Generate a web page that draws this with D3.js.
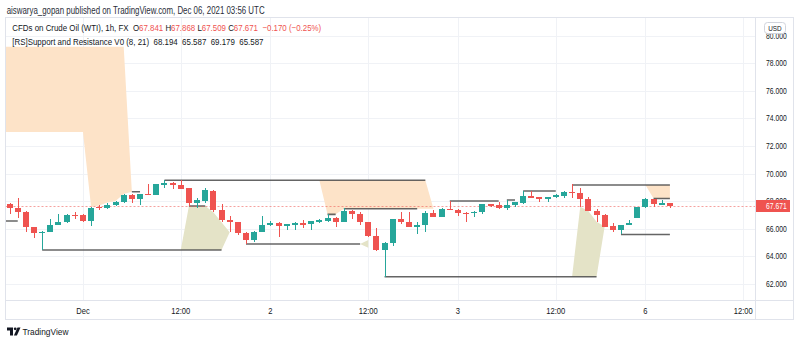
<!DOCTYPE html>
<html><head><meta charset="utf-8">
<script src="https://cdn.jsdelivr.net/npm/d3@7"></script>
<style>
html,body{margin:0;padding:0;background:#fff;}
svg{display:block;}
text{font-family:"Liberation Sans",Arial,sans-serif;white-space:pre;}
</style></head><body>
<svg id="chart" width="800" height="343"></svg>
<script>
// ---------- data: WTI CFD, 1h bars, Nov 30 14:00 UTC .. Dec 6 03:00 UTC ----------
const open = [67.78,67.49,67.20,66.11,65.72,65.75,66.28,66.50,67.00,66.98,
  66.57,67.55,67.51,67.71,67.95,68.43,68.16,68.55,68.47,69.20,
  69.33,69.16,68.94,67.90,68.04,68.77,67.37,66.66,66.50,65.68,
  65.19,65.75,66.28,66.45,66.23,66.28,66.40,66.35,66.52,66.59,
  66.76,66.52,67.29,67.05,66.52,65.48,64.49,64.97,66.71,66.50,
  66.16,66.28,67.17,66.88,67.46,67.39,67.15,67.12,67.20,67.80,
  67.71,67.51,67.71,67.87,68.36,68.29,68.16,68.29,68.40,68.69,
  68.58,68.16,67.29,67.00,66.21,65.89,66.28,66.81,67.56,68.16,
  67.75,67.841];
const high = [67.87,68.21,67.29,66.16,65.87,66.71,67.05,67.05,67.24,67.05,
  67.58,67.70,67.90,68.02,68.53,68.53,68.53,69.26,69.25,69.52,
  69.38,69.52,68.94,68.26,68.94,68.82,67.78,66.91,66.50,65.75,
  65.84,66.95,66.57,66.52,66.33,66.52,66.62,66.59,66.69,67.05,
  66.83,67.49,67.39,67.24,66.52,66.04,65.07,66.74,67.20,67.20,
  66.47,67.29,67.39,67.51,68.02,67.46,67.20,67.29,67.82,67.82,
  67.97,68.09,67.97,68.74,68.74,68.33,68.31,68.53,68.74,69.24,
  68.94,68.33,67.44,67.05,66.40,66.28,66.62,67.61,68.21,68.16,
  68.07,67.868];
const low = [67.10,66.81,65.79,65.31,64.47,65.75,66.28,66.40,66.69,66.50,
  66.23,67.35,67.42,67.66,67.90,67.85,67.73,68.46,68.44,68.98,
  68.89,68.91,67.68,67.53,67.90,67.20,66.47,65.75,65.53,64.88,
  65.05,65.75,66.23,65.43,65.89,65.94,66.09,65.92,66.40,66.47,
  66.16,66.47,66.74,66.28,65.43,64.39,62.53,64.73,66.33,66.13,
  65.60,65.75,66.86,66.83,67.39,66.95,66.52,66.83,67.10,67.56,
  67.46,67.39,67.56,67.82,68.21,67.97,67.97,68.26,68.21,68.26,
  67.60,67.29,66.52,66.16,65.79,65.63,66.28,66.81,67.51,67.58,
  67.75,67.509];
const close = [67.49,67.24,66.13,65.72,65.76,66.28,66.50,67.00,66.97,66.55,
  67.51,67.50,67.71,67.95,68.43,68.19,68.53,68.50,69.25,69.33,
  69.16,68.91,67.90,68.09,68.79,67.35,66.64,66.47,65.68,65.17,
  65.75,66.28,66.45,66.23,66.33,66.40,66.30,66.55,66.62,66.76,
  66.52,67.29,67.05,66.52,65.48,64.49,64.97,66.71,66.47,66.16,
  66.28,67.17,66.88,67.44,67.44,67.17,67.12,67.22,67.78,67.68,
  67.51,67.71,67.93,68.36,68.24,68.14,68.31,68.45,68.69,68.65,
  68.16,67.29,67.00,66.16,65.89,66.28,66.45,67.61,68.16,67.78,
  67.87,67.671];

// Support / resistance zones (upper and lower edge per bar, null = no zone)
const resHi = [79.2,79.2,79.2,79.2,79.2,79.2,79.2,79.2,79.2,79.2,
  79.2,79.2,79.2,79.2,79.2,68.69,68.69,null,null,69.52,
  69.52,69.52,69.52,69.52,69.52,69.52,69.52,69.52,69.52,69.52,
  69.52,69.52,69.52,69.52,69.52,69.52,69.52,69.52,69.52,69.52,
  69.52,69.52,69.52,69.52,69.52,69.52,69.52,69.52,69.52,69.52,
  69.52,69.52,67.45,null,68.02,68.02,68.02,68.02,68.02,68.02,
  68.02,68.09,68.09,68.74,68.74,68.74,68.74,68.74,null,69.179,
  69.179,69.179,69.179,69.179,69.179,69.179,69.179,69.179,69.179,69.179,
  69.179,69.179];
const resLo = [73.02,73.02,73.02,73.02,73.02,73.02,73.02,73.02,73.02,73.02,
  67.58,67.70,67.90,68.02,68.53,68.69,68.69,null,null,69.52,
  69.52,69.52,69.52,69.52,69.52,69.52,69.52,69.52,69.52,69.52,
  69.52,69.52,69.52,69.52,69.52,69.52,69.52,69.52,69.52,67.05,
  67.05,67.45,67.45,67.45,67.45,67.45,67.45,67.45,67.45,67.45,
  67.45,67.45,67.45,null,68.02,68.02,68.02,68.02,68.02,68.02,
  68.02,68.09,68.09,68.74,68.74,68.74,68.74,68.74,null,69.179,
  69.179,69.179,69.179,69.179,69.179,69.179,69.179,69.179,69.179,68.194,
  68.194,68.194];
const supHi = [66.57,66.57,null,null,64.47,64.47,64.47,64.47,64.47,64.47,
  64.47,64.47,64.47,64.47,64.47,64.47,64.47,64.47,64.47,64.47,
  64.47,64.47,67.66,67.66,67.66,67.20,66.47,65.75,null,64.9,
  64.9,64.9,64.9,64.9,64.9,64.9,64.9,64.9,64.9,64.9,
  64.9,64.9,64.9,64.9,65.19,null,62.53,62.53,62.53,62.53,
  62.53,62.53,62.53,62.53,62.53,62.53,62.53,62.53,62.53,62.53,
  62.53,62.53,62.53,62.53,62.53,62.53,62.53,62.53,62.53,62.53,
  67.60,67.29,66.52,66.16,null,65.587,65.587,65.587,65.587,65.587,
  65.587,65.587];
const supLo = [66.57,66.57,null,null,64.47,64.47,64.47,64.47,64.47,64.47,
  64.47,64.47,64.47,64.47,64.47,64.47,64.47,64.47,64.47,64.47,
  64.47,64.47,64.47,64.47,64.47,64.47,64.47,65.75,null,64.9,
  64.9,64.9,64.9,64.9,64.9,64.9,64.9,64.9,64.9,64.9,
  64.9,64.9,64.9,64.9,64.63,null,62.53,62.53,62.53,62.53,
  62.53,62.53,62.53,62.53,62.53,62.53,62.53,62.53,62.53,62.53,
  62.53,62.53,62.53,62.53,62.53,62.53,62.53,62.53,62.53,62.53,
  62.53,62.53,62.53,66.16,null,65.587,65.587,65.587,65.587,65.587,
  65.587,65.587];

// Level lines: [first bar, last bar, price]
const levelLines = [
  [0, 1, 66.57], [4, 26, 64.47], [15, 16, 68.69], [19, 51, 69.52],
  [22, 24, 67.66], [29, 43, 64.9], [39, 40, 67.05], [41, 50, 67.45],
  [46, 72, 62.53], [54, 60, 68.02], [61, 62, 68.09], [63, 67, 68.74],
  [69, 81, 69.179], [75, 81, 65.587], [79, 81, 68.194]
];

const tickLabels = ["Dec", "12:00", "2", "12:00", "3", "12:00", "6", "12:00"];
const tickBars = [9, 21, 32, 44, 55, 67, 78, 90];
const priceTicks = [62, 64, 66, 68, 70, 72, 74, 76, 78, 80];
const lastPrice = 67.671;

const headerText = "aiswarya_gopan published on TradingView.com, Dec 06, 2021 03:56 UTC";
const symbolText = "CFDs on Crude Oil (WTI), 1h, FX";
const ohlcLabels = ["O", "H", "L", "C"];
const ohlcValues = ["67.841", "67.868", "67.509", "67.671"];
const changeText = "\u22120.170 (\u22120.25%)";
const studyText = "[RS]Support and Resistance V0 (8, 21)";
const studyValues = ["68.194", "65.587", "69.179", "65.587"];

// ---------- layout ----------
const pane = {left: 5.5, right: 755.5, top: 17.5, bottom: 300.5};
const frame = {right: 793.5, bottom: 319.5};
const UP = "#26a69a", DOWN = "#ef5350", INK = "#131722", BORDER = "#e0e3eb", GRID = "#f0f2f6";

const svg = d3.select("#chart");
const x = d3.scaleLinear().domain([-0.5, 91.5]).range([pane.left, pane.right]);
const y = d3.scaleLinear().domain([62, 78]).range([284, 63.3]);

svg.append("defs").append("clipPath").attr("id", "paneClip")
  .append("rect").attr("x", pane.left).attr("y", pane.top)
  .attr("width", pane.right - pane.left).attr("height", pane.bottom - pane.top);

// text helper: horizontally fit to a target width
function addText(parent, str, tx, ty, o) {
  const g = parent.append("g").attr("transform", `translate(${tx},${ty})`);
  const t = g.append("text").attr("font-size", o.size).attr("fill", o.fill || INK)
    .attr("text-anchor", o.anchor || "start");
  if (typeof str === "function") str(t); else t.text(str);
  let s = o.sx;
  if (o.width) s = o.width / t.node().getComputedTextLength();
  if (s) t.attr("transform", `scale(${s},1)`);
  return t;
}
function widthScale(sample, size, target) {
  const t = svg.append("text").attr("font-size", size).text(sample);
  const s = target / t.node().getComputedTextLength();
  t.remove();
  return s;
}

// ---------- grid ----------
const grid = svg.append("g");
grid.selectAll("line.h").data(priceTicks).join("line")
  .attr("x1", pane.left).attr("x2", pane.right)
  .attr("y1", d => Math.round(y(d)) + 0.5).attr("y2", d => Math.round(y(d)) + 0.5)
  .attr("stroke", GRID);
grid.selectAll("line.v").data(tickBars).join("line")
  .attr("x1", d => Math.round(x(d)) + 0.5).attr("x2", d => Math.round(x(d)) + 0.5)
  .attr("y1", pane.top).attr("y2", pane.bottom).attr("stroke", GRID);

// ---------- zones ----------
const plot = svg.append("g").attr("clip-path", "url(#paneClip)");
function zonePoints(hi, lo) {
  const pts = hi.map((h, i) => ({i, hi: h, lo: lo[i]}));
  if (hi[0] != null && lo[0] != null) pts.unshift({i: x.domain()[0], hi: hi[0], lo: lo[0]});
  return pts;
}
const zoneArea = d3.area()
  .defined(d => d.hi != null && d.lo != null)
  .x(d => x(d.i)).y0(d => y(d.lo)).y1(d => y(d.hi));
plot.append("path").datum(zonePoints(resHi, resLo)).attr("d", zoneArea).attr("fill", "#fde3c8");
plot.append("path").datum(zonePoints(supHi, supLo)).attr("d", zoneArea).attr("fill", "#e4e3c7");

plot.selectAll("line.level").data(levelLines).join("line")
  .attr("x1", d => d[0] === 0 ? pane.left : x(d[0])).attr("x2", d => x(d[1]))
  .attr("y1", d => y(d[2])).attr("y2", d => y(d[2]))
  .attr("stroke", "#4a4a4a").attr("stroke-opacity", 0.85).attr("stroke-width", 1.6);

// last price line
plot.append("line").attr("x1", pane.left).attr("x2", pane.right)
  .attr("y1", Math.round(y(lastPrice)) + 0.5).attr("y2", Math.round(y(lastPrice)) + 0.5)
  .attr("stroke", DOWN).attr("stroke-opacity", 0.55).attr("stroke-dasharray", "2,2");

// ---------- candles ----------
const bars = open.map((o, i) => ({i, o, h: high[i], l: low[i], c: close[i]}));
const cg = plot.append("g").attr("shape-rendering", "crispEdges");
const candle = cg.selectAll("g").data(bars).join("g")
  .attr("fill", d => d.c >= d.o ? UP : DOWN);
candle.append("rect")
  .attr("x", d => Math.round(x(d.i))).attr("width", 1)
  .attr("y", d => y(d.h)).attr("height", d => Math.max(1, y(d.l) - y(d.h)));
candle.append("rect")
  .attr("x", d => Math.round(x(d.i)) - 3).attr("width", 6)
  .attr("y", d => y(Math.max(d.o, d.c)))
  .attr("height", d => Math.max(1, Math.abs(y(d.o) - y(d.c))));

// ---------- frame ----------
const fr = svg.append("g").attr("fill", "none").attr("stroke", BORDER);
fr.append("rect").attr("x", pane.left).attr("y", pane.top)
  .attr("width", frame.right - pane.left).attr("height", frame.bottom - pane.top);
fr.append("line").attr("x1", pane.right).attr("x2", pane.right).attr("y1", pane.top).attr("y2", frame.bottom);
fr.append("line").attr("x1", pane.left).attr("x2", frame.right).attr("y1", pane.bottom).attr("y2", pane.bottom);

// ---------- price axis ----------
const axisSx = widthScale("78.000", 8.5, 20.7);
const pa = svg.append("g");
priceTicks.forEach(p => addText(pa, d3.format(".3f")(p), 766, y(p) + 3, {size: 8.5, sx: axisSx}));
// currency badge
pa.append("rect").attr("x", 764.5).attr("y", 22.5).attr("width", 21).attr("height", 11).attr("rx", 3)
  .attr("fill", "#fff").attr("stroke", "#d1d4dc");
addText(pa, "USD", 775, 31, {size: 7.5, anchor: "middle", sx: 0.85});
// last price tag
const ly = y(lastPrice);
pa.append("rect").attr("x", 756).attr("y", Math.round(ly) - 6).attr("width", 34).attr("height", 12).attr("fill", DOWN);
addText(pa, d3.format(".3f")(lastPrice), 766, Math.round(ly) + 3, {size: 8.5, sx: axisSx, fill: "#fff"});

// ---------- time axis ----------
const timeSx = widthScale("12:00", 8.5, 19);
const ta = svg.append("g");
tickBars.forEach((b, k) => addText(ta, tickLabels[k], x(b), 313.5, {size: 8.5, anchor: "middle", sx: timeSx}));

// ---------- header and legend ----------
addText(svg, headerText, 6.7, 13.5, {size: 10, width: 258, fill: "#2a2e39"});
addText(svg, t => {
  t.append("tspan").text(symbolText + "  ");
  ohlcLabels.forEach((l, k) => {
    t.append("tspan").text(l);
    t.append("tspan").attr("fill", DOWN).text(ohlcValues[k] + " ");
  });
  t.append("tspan").attr("fill", DOWN).text(" " + changeText);
}, 12.3, 31, {size: 9.2, width: 309});
addText(svg, studyText + "  " + studyValues.join("  "), 12.3, 44.5, {size: 9.2, width: 251});

// ---------- footer logo ----------
const logo = svg.append("g").attr("fill", INK);
logo.append("path").attr("d", "M7,327.5 h6 v8 h-3 v-5 h-3 z");
logo.append("circle").attr("cx", 15.2).attr("cy", 328.8).attr("r", 1.4);
logo.append("path").attr("d", "M17.5,327.5 h3 l-3.6,8 h-3 z");
addText(svg, "TradingView", 22.5, 335, {size: 9.5, width: 46, fill: INK});
</script>
</body></html>
